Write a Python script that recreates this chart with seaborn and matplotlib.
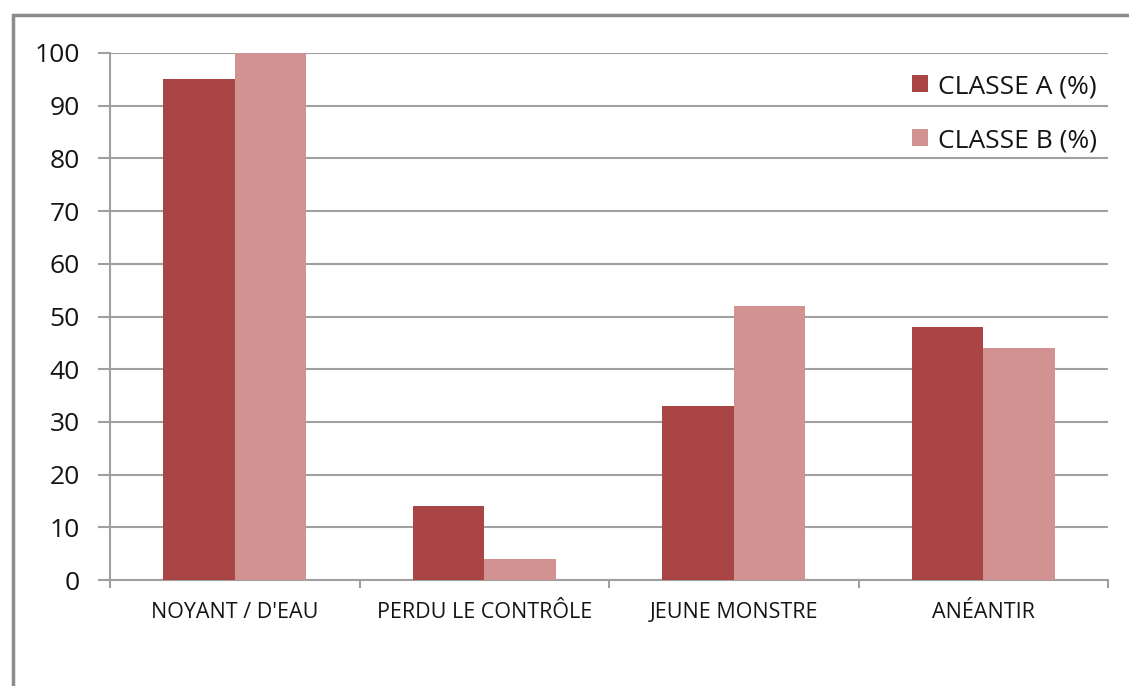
import numpy as np
import pandas as pd
import matplotlib
matplotlib.use("Agg")
import matplotlib.pyplot as plt
import seaborn as sns
from matplotlib.patches import Rectangle

# data
categories = ["NOYANT / D'EAU", "PERDU LE CONTRÔLE", "JEUNE MONSTRE", "ANÉANTIR"]
classe_a = [95, 14, 33, 48]
classe_b = [100, 4, 52, 44]
series_names = ["CLASSE A (%)", "CLASSE B (%)"]
y_ticks = [0, 10, 20, 30, 40, 50, 60, 70, 80, 90, 100]

df = pd.DataFrame({
    "cat": categories * 2,
    "val": classe_a + classe_b,
    "serie": [series_names[0]] * 4 + [series_names[1]] * 4,
})

sns.set_style("white")
plt.rcParams['font.family'] = ['Open Sans', 'DejaVu Sans']

fig = plt.figure(figsize=(11.29, 6.86), dpi=100)
ax = fig.add_axes([110 / 1129, 1 - 580 / 686, (1108 - 110) / 1129, (580 - 53) / 686])

sns.barplot(data=df, x="cat", y="val", hue="serie",
            palette=["#A94544", "#D39292"], width=0.573, gap=0,
            saturation=1, linewidth=0, ax=ax, zorder=3)

ax.set_xlim(-0.5, 3.5)
ax.set_ylim(0, 100)
ax.set_yticks(y_ticks)
ax.set_xlabel("")
ax.set_ylabel("")

grid_c = "#a0a0a0"
txt_c = "#151515"
ax.yaxis.grid(True, color=grid_c, linewidth=1.5, zorder=0)
ax.set_axisbelow(True)
for s in ["top", "right"]:
    ax.spines[s].set_visible(False)
for s in ["left", "bottom"]:
    ax.spines[s].set_color(grid_c)
    ax.spines[s].set_linewidth(1.5)

ax.tick_params(axis="y", length=8.6, width=1.5, color=grid_c, labelsize=19,
               labelcolor=txt_c, pad=13, left=True)
ax.tick_params(axis="x", which="major", length=0, labelsize=15.5,
               labelcolor=txt_c, pad=16)
ax.set_xticks(np.arange(-0.5, 4, 1), minor=True)
ax.tick_params(axis="x", which="minor", length=6, width=1.5, color=grid_c,
               bottom=True)

leg = ax.legend(loc="upper right", frameon=False, fontsize=19,
                handlelength=0.6, handleheight=0.6, handletextpad=0.4,
                labelspacing=1.1, bbox_to_anchor=(1.005, 0.99), borderaxespad=0.2)
for t in leg.get_texts():
    t.set_color(txt_c)

# outer chart frame
fig.patches.append(Rectangle((13 / 1129, -0.05), 1.2, 1 - 15 / 686 + 0.05,
                             transform=fig.transFigure, fill=False,
                             edgecolor="#8c8c8c", linewidth=2.5))

fig.savefig("out.png", dpi=100)
